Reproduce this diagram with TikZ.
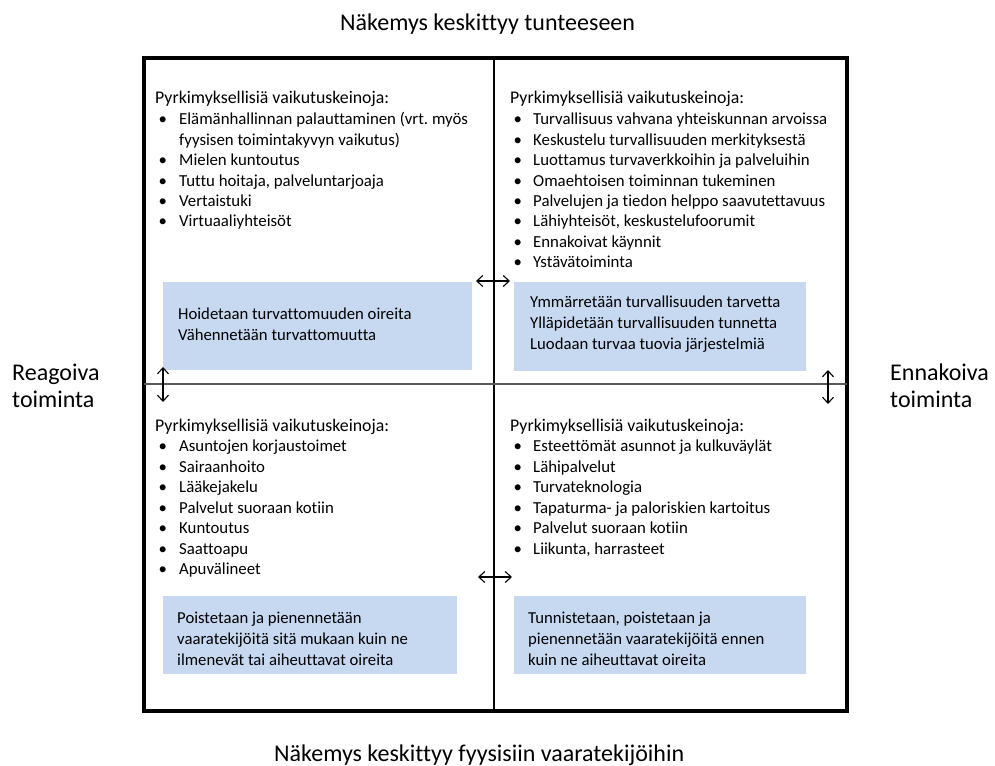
\documentclass[tikz,border=0pt]{standalone}
\usepackage{fontspec}
\setmainfont{Carlito}[Ligatures=NoCommon]
\usetikzlibrary{arrows.meta}
\definecolor{boxblue}{RGB}{198,217,241}
\frenchspacing

% list helpers: a bullet row and a continuation row
\newcommand{\itm}[1]{\hspace*{3.5pt}\textbullet & #1 \\}
\newcommand{\cnt}[1]{ & #1 \\}
\newcommand{\hdr}{\multicolumn{2}{@{}l@{}}{\fontsize{17.8}{20.6}\selectfont Pyrkimyksellisiä vaikutuskeinoja:}\\}

\tikzset{
  frame/.style={line width=3.5pt},
  vdivider/.style={line width=1.4pt},
  hdivider/.style={line width=1.6pt, draw=black!65},
  dblarrow/.style={{Straight Barb[length=6pt,width=11pt]}-{Straight Barb[length=6pt,width=11pt]}, line width=1.1pt},
  bluebox/.style={fill=boxblue, draw=none, inner sep=0pt, anchor=north west},
  title/.style={font=\fontsize{24}{28}\selectfont, inner sep=0pt, anchor=base west},
  side/.style={font=\fontsize{24}{27}\selectfont, inner sep=0pt, anchor=base west},
  listtext/.style={inner sep=0pt, anchor=base west, font=\fontsize{16.8}{20.5}\selectfont},
  boxtext/.style={inner sep=0pt, anchor=base west, font=\fontsize{16.7}{21}\selectfont},
}

\begin{document}
\begin{tikzpicture}[x=1pt, y=-1pt]
\useasboundingbox (0,0) rectangle (995,765);

% axis titles
\node[title] (toptitle) at (340,31) {Näkemys keskittyy tunteeseen};
\node[title] (bottomtitle) at (274,761) {Näkemys keskittyy fyysisiin vaaratekijöihin};
\node[side] (leftlabel) at (12,380) {\begin{tabular}[t]{@{}l@{}}Reagoiva\\toiminta\end{tabular}};
\node[side] (rightlabel) at (890,380) {\begin{tabular}[t]{@{}l@{}}Ennakoiva\\toiminta\end{tabular}};

% blue summary boxes
\node[bluebox, minimum width=309pt, minimum height=88pt] (tlbox) at (163,282) {};
\node[bluebox, minimum width=292pt, minimum height=89pt] (trbox) at (514,282) {};
\node[bluebox, minimum width=294pt, minimum height=78pt] (blbox) at (163,596) {};
\node[bluebox, minimum width=292pt, minimum height=78pt] (brbox) at (514,596) {};

% quadrant frame and dividers
\draw[frame] (144,58) rectangle (847,711);
\draw[vdivider] (494,58) -- (494,711);
\draw[hdivider] (144,384) -- (847,384);

% top-left quadrant
\node[listtext] (tllist) at (155,104) {\begin{tabular}[t]{@{}p{24pt}@{}l@{}}
\hdr
\itm{Elämänhallinnan palauttaminen (vrt. myös}
\cnt{fyysisen toimintakyvyn vaikutus)}
\itm{Mielen kuntoutus}
\itm{Tuttu hoitaja, palveluntarjoaja}
\itm{Vertaistuki}
\itm{Virtuaaliyhteisöt}
\end{tabular}};
\node[boxtext] (tltext) at (178,319) {\begin{tabular}[t]{@{}l@{}}
Hoidetaan turvattomuuden oireita\\
Vähennetään turvattomuutta
\end{tabular}};

% top-right quadrant
\node[listtext] (trlist) at (510,104) {\begin{tabular}[t]{@{}p{23pt}@{}l@{}}
\hdr
\itm{Turvallisuus vahvana yhteiskunnan arvoissa}
\itm{Keskustelu turvallisuuden merkityksestä}
\itm{Luottamus turvaverkkoihin ja palveluihin}
\itm{Omaehtoisen toiminnan tukeminen}
\itm{Palvelujen ja tiedon helppo saavutettavuus}
\itm{Lähiyhteisöt, keskustelufoorumit}
\itm{Ennakoivat käynnit}
\itm{Ystävätoiminta}
\end{tabular}};
\node[boxtext] (trtext) at (530,307) {\begin{tabular}[t]{@{}l@{}}
Ymmärretään turvallisuuden tarvetta\\
Ylläpidetään turvallisuuden tunnetta\\
Luodaan turvaa tuovia järjestelmiä
\end{tabular}};

% bottom-left quadrant
\node[listtext] (bllist) at (155,431) {\begin{tabular}[t]{@{}p{24pt}@{}l@{}}
\hdr
\itm{Asuntojen korjaustoimet}
\itm{Sairaanhoito}
\itm{Lääkejakelu}
\itm{Palvelut suoraan kotiin}
\itm{Kuntoutus}
\itm{Saattoapu}
\itm{Apuvälineet}
\end{tabular}};
\node[boxtext] (bltext) at (177,623) {\begin{tabular}[t]{@{}l@{}}
Poistetaan ja pienennetään\\
vaaratekijöitä sitä mukaan kuin ne\\
ilmenevät tai aiheuttavat oireita
\end{tabular}};

% bottom-right quadrant
\node[listtext] (brlist) at (510,431) {\begin{tabular}[t]{@{}p{23pt}@{}l@{}}
\hdr
\itm{Esteettömät asunnot ja kulkuväylät}
\itm{Lähipalvelut}
\itm{Turvateknologia}
\itm{Tapaturma- ja paloriskien kartoitus}
\itm{Palvelut suoraan kotiin}
\itm{Liikunta, harrasteet}
\end{tabular}};
\node[boxtext] (brtext) at (528,623) {\begin{tabular}[t]{@{}l@{}}
Tunnistetaan, poistetaan ja\\
pienennetään vaaratekijöitä ennen\\
kuin ne aiheuttavat oireita
\end{tabular}};

% double-headed arrows across the dividers
\coordinate (topA) at (476,281);
\coordinate (topB) at (510,281);
\coordinate (botA) at (478,577);
\coordinate (botB) at (512,577);
\coordinate (leftA) at (163,367);
\coordinate (leftB) at (163,402);
\coordinate (rightA) at (828,370);
\coordinate (rightB) at (828,404);
\draw[dblarrow] (topA) -- (topB);
\draw[dblarrow] (botA) -- (botB);
\draw[dblarrow] (leftA) -- (leftB);
\draw[dblarrow] (rightA) -- (rightB);
\end{tikzpicture}
\end{document}
